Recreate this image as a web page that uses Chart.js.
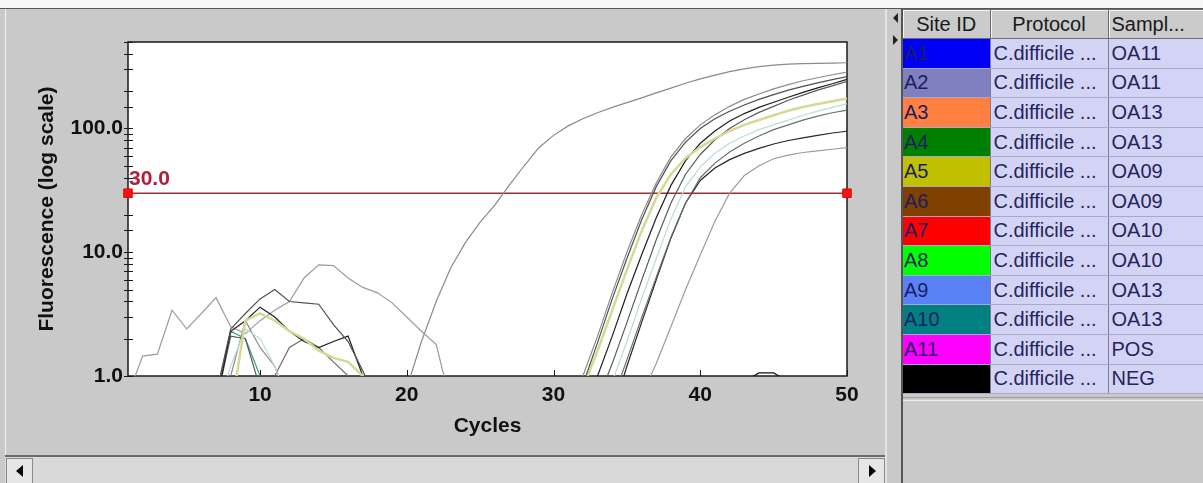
<!DOCTYPE html>
<html lang="en">
<head>
<meta charset="UTF-8">
<title>Amplification</title>
<script src="https://cdn.jsdelivr.net/npm/chart.js"></script>
<style>
  body { margin: 0; width: 1203px; height: 483px; background: #c9c9c9; position: relative; overflow: hidden;
         font-family: "Liberation Sans", Arial, sans-serif; }
  #topstrip { position: absolute; left: 0; top: 0; width: 1203px; height: 8px; background: #f7f7f7; border-bottom: 1px solid #555; }
  #leftEdge { position: absolute; left: 5px; top: 9px; width: 1px; height: 446px; background: #f2f2f2; }
  #amp { position: absolute; left: 5px; top: 9px; }
  #hscroll { position: absolute; left: 5px; top: 455px; width: 880px; height: 28px; background: #d9d9d9; border-top: 2px solid #6a6a6a; box-sizing: border-box; }
  .sbtn { position: absolute; top: 1px; width: 27px; height: 26px; background: #e6e6e6; border: 1px solid #8a8a8a; box-sizing: border-box; }
  .sbtn.l { left: 1px; } .sbtn.r { right: 0; }
  .sbtn::after { content: ""; position: absolute; top: 6px; border-top: 6px solid transparent; border-bottom: 6px solid transparent; }
  .sbtn.l::after { left: 9px; border-right: 7px solid #000; }
  .sbtn.r::after { left: 10px; border-left: 7px solid #000; }
  #split { position: absolute; left: 885px; top: 9px; width: 16px; height: 474px; background: #c9c9c9; border-left: 2px solid #e4e4e4; box-sizing: border-box; }
  #splitLine { position: absolute; left: 901px; top: 9px; width: 2px; height: 474px; background: #555; }
  .arr { position: absolute; left: 893px; width: 0; height: 0; border-top: 5px solid transparent; border-bottom: 5px solid transparent; }
  .arr.up { top: 13px; border-right: 5px solid #222; }
  .arr.dn { top: 35px; border-left: 5px solid #222; }
  #wells { position: absolute; left: 903px; top: 9px; width: 300px; border-collapse: collapse; table-layout: fixed; font-size: 20px; }
  #wells th { height: 28px; padding: 0; font-weight: normal; background: #cbcbcb; color: #1a1a1a;
              border-right: 1px solid #6d6d6d; border-bottom: 1px solid #6d6d6d; border-top: 1px solid #6d6d6d;
              box-shadow: inset 1px 1px 0 #f4f4f4; white-space: nowrap; overflow: hidden; }
  #wells th.lft { text-align: left; padding-left: 3px; }
  #wells td { height: 28.6px; padding: 0 0 0 3px; background: #d3d3f6; color: #25255c; white-space: nowrap; overflow: hidden;
              border-bottom: 1px solid #a8a8cc; border-right: 1px solid #7d7d95; }
  #wells td.site { padding-left: 1px; color: #1c1c64; }
  #below { position: absolute; left: 903px; top: 397px; width: 300px; height: 2px; border-top: 1px solid #9a9a9a; border-bottom: 1px solid #ececec; }
</style>
</head>
<body>
<div id="topstrip"></div>
<div id="leftEdge"></div>
<canvas id="amp" width="880" height="445"></canvas>
<div id="hscroll"><div class="sbtn l"></div><div class="sbtn r"></div></div>
<div id="split"></div>
<div id="splitLine"></div>
<div class="arr up"></div>
<div class="arr dn"></div>
<table id="wells">
  <colgroup><col style="width:87px"><col style="width:118px"><col style="width:95px"></colgroup>
  <thead><tr><th>Site ID</th><th>Protocol</th><th class="lft">Sampl...</th></tr></thead>
  <tbody id="rows"></tbody>
</table>
<div id="below"></div>

<script>
// cycle numbers (x axis)
const cycles = [1, 2, 3, 4, 5, 6, 7, 8, 9, 10, 11, 12, 13, 14, 15, 16, 17, 18, 19, 20,
                21, 22, 23, 24, 25, 26, 27, 28, 29, 30, 31, 32, 33, 34, 35, 36, 37, 38, 39, 40,
                41, 42, 43, 44, 45, 46, 47, 48, 49, 50];

// table
const siteIds   = ['A1', 'A2', 'A3', 'A4', 'A5', 'A6', 'A7', 'A8', 'A9', 'A10', 'A11', ''];
const protocols = ['C.difficile ...', 'C.difficile ...', 'C.difficile ...', 'C.difficile ...', 'C.difficile ...', 'C.difficile ...',
                   'C.difficile ...', 'C.difficile ...', 'C.difficile ...', 'C.difficile ...', 'C.difficile ...', 'C.difficile ...'];
const samples   = ['OA11', 'OA11', 'OA13', 'OA13', 'OA09', 'OA09', 'OA10', 'OA10', 'OA13', 'OA13', 'POS', 'NEG'];
const siteColors = ['#0000f8', '#8080c0', '#ff8040', '#008000', '#c0c000', '#804000',
                    '#ff0000', '#00ff00', '#5b82f5', '#008080', '#ff00ff', '#000000'];

// curve colours as they show on the plot
const lineColors = ['#505050', '#d5d993', '#1e1e1e', '#5a5a5a', '#b6dfda', '#6e6e6e',
                    '#262626', '#9c9c9c', '#8c8c8c', '#3aa070', '#8a8a8a', '#111111'];

// fluorescence per cycle (values under 1.0 sit below the axis)
const a1 = [0.5, 0.5, 0.5, 0.5, 0.5, 0.5, 0.7, 2.4, 3.2, 4.2, 5.0, 4.0, 3.9, 3.8, 2.6, 1.9, 1.1, 0.6, 0.5, 0.5,
            0.5, 0.5, 0.5, 0.5, 0.5, 0.5, 0.5, 0.5, 0.5, 0.5, 0.5, 0.85, 1.86, 4.2, 8.9, 18.2, 33.9, 55, 77.6, 100,
            120, 138, 155, 172, 188, 204, 219, 234, 248, 263];
const a2 = [0.5, 0.5, 0.5, 0.5, 0.5, 0.5, 0.5, 0.5, 2.8, 3.2, 2.8, 2.3, 2.0, 1.6, 1.4, 1.3, 1.0, 0.5, 0.5, 0.5,
            0.5, 0.5, 0.5, 0.5, 0.5, 0.5, 0.5, 0.5, 0.5, 0.5, 0.5, 0.8, 1.6, 3.4, 7.2, 14.8, 27.5, 42.7, 57.5, 70.8,
            83, 95.5, 107, 117, 128, 139, 149, 158, 166, 175];
const a3 = [0.5, 0.5, 0.5, 0.5, 0.5, 0.5, 0.6, 2.3, 2.8, 3.6, 3.0, 2.3, 1.9, 1.7, 1.9, 2.1, 1.0, 0.5, 0.5, 0.5,
            0.5, 0.5, 0.5, 0.5, 0.5, 0.5, 0.5, 0.5, 0.5, 0.5, 0.5, 0.5, 1.0, 2.1, 4.6, 9.5, 19, 34.7, 55, 76,
            95.5, 115, 132, 148, 163, 179, 196, 213, 230, 250];
const a4 = [0.5, 0.5, 0.5, 0.5, 0.5, 0.5, 0.6, 2.1, 2.0, 0.8, 0.5, 0.5, 0.5, 0.5, 0.5, 0.5, 0.5, 0.5, 0.5, 0.5,
            0.5, 0.5, 0.5, 0.5, 0.5, 0.5, 0.5, 0.5, 0.5, 0.5, 0.5, 0.5, 0.63, 1.26, 2.7, 5.9, 12.6, 25, 42.7, 61.7,
            81, 100, 117.5, 135, 151, 169, 186, 204, 221, 240];
const a5 = [0.5, 0.5, 0.5, 0.5, 0.5, 0.5, 0.5, 1.2, 2.4, 2.0, 1.2, 0.6, 0.5, 0.5, 0.5, 0.5, 0.5, 0.5, 0.5, 0.5,
            0.5, 0.5, 0.5, 0.5, 0.5, 0.5, 0.5, 0.5, 0.5, 0.5, 0.5, 0.5, 0.5, 0.9, 1.9, 4.2, 8.9, 18.6, 33.9, 49,
            63, 76, 87, 98, 107, 117, 128, 138, 148, 158];
const a6 = [0.5, 0.5, 0.5, 0.5, 0.5, 0.5, 0.5, 0.5, 0.5, 0.7, 1.0, 1.7, 2.0, 1.7, 1.3, 1.0, 0.7, 0.5, 0.5, 0.5,
            0.5, 0.5, 0.5, 0.5, 0.5, 0.5, 0.5, 0.5, 0.5, 0.5, 0.5, 0.5, 0.5, 0.63, 1.35, 2.95, 6.3, 13.2, 25, 40,
            52.5, 64.5, 76, 87, 98, 107, 117, 126, 134, 141];
const a7 = [0.5, 0.5, 0.5, 0.5, 0.5, 0.5, 0.5, 0.5, 0.5, 0.5, 0.5, 0.5, 0.5, 0.5, 0.5, 0.5, 0.5, 0.5, 0.5, 0.5,
            0.5, 0.5, 0.5, 0.5, 0.5, 0.5, 0.5, 0.5, 0.5, 0.5, 0.5, 0.5, 0.5, 0.5, 1.2, 2.7, 6.0, 13, 25, 38,
            48, 56, 63, 69, 75, 80, 84, 88, 92, 95];
const a8 = [0.7, 1.45, 1.5, 3.4, 2.4, 3.2, 4.3, 2.5, 2.2, 2.8, 3.4, 4.0, 6.2, 7.9, 7.8, 6.2, 5.2, 4.7, 3.9, 3.0,
            2.3, 1.8, 0.6, 0.5, 0.5, 0.5, 0.5, 0.5, 0.5, 0.5, 0.5, 0.5, 0.5, 0.5, 0.5, 0.7, 1.26, 2.5, 5.0, 9.5,
            17.8, 30, 41.7, 50, 57, 61, 64, 66, 68, 70];
const a9 = [0.5, 0.5, 0.5, 0.5, 0.5, 0.5, 0.5, 1.0, 2.8, 1.7, 1.2, 0.6, 0.5, 0.5, 0.5, 0.5, 0.5, 0.5, 0.5, 0.5,
            0.5, 0.5, 0.5, 0.5, 0.5, 0.5, 0.5, 0.5, 0.5, 0.5, 0.5, 1.0, 2.1, 4.7, 10, 20, 36.3, 59, 83, 107,
            129, 151, 172, 190, 209, 226, 243, 257, 272, 285];
const a10 = [0.5, 0.5, 0.5, 0.5, 0.5, 0.5, 0.7, 2.3, 2.0, 1.0, 0.6, 0.5, 0.5, 0.5, 0.5, 0.5, 0.5, 0.5, 0.5, 0.5,
             0.5, 0.5, 0.5, 0.5, 0.5, 0.5, 0.5, 0.5, 0.5, 0.5, 0.5, 0.5, 0.5, 0.5, 0.5, 0.5, 0.5, 0.5, 0.5, 0.5,
             0.5, 0.5, 0.5, 0.5, 0.5, 0.5, 0.5, 0.5, 0.5, 0.5];
const a11 = [0.5, 0.5, 0.5, 0.5, 0.5, 0.5, 0.5, 0.5, 0.5, 0.5, 0.5, 0.5, 0.5, 0.5, 0.5, 0.5, 0.5, 0.5, 0.5, 0.8,
             1.9, 4.0, 7.5, 12, 17.5, 24, 35, 50, 70, 88, 105, 120, 134, 148, 162, 177, 194, 212, 232, 252,
             270, 288, 303, 316, 325, 331, 334, 336, 338, 340];
const a12 = [0.5, 0.5, 0.5, 0.5, 0.5, 0.5, 0.5, 0.5, 0.5, 0.5, 0.5, 0.5, 0.5, 0.5, 0.5, 0.5, 0.5, 0.5, 0.5, 0.5,
             0.5, 0.5, 0.5, 0.5, 0.5, 0.5, 0.5, 0.5, 0.5, 0.5, 0.5, 0.5, 0.5, 0.5, 0.5, 0.5, 0.5, 0.5, 0.5, 0.5,
             0.5, 0.5, 0.9, 1.06, 1.06, 0.9, 0.5, 0.5, 0.5, 0.5];
const wells = [a1, a2, a3, a4, a5, a6, a7, a8, a9, a10, a11, a12];

const threshold = 30;
const yLabelValues = [1, 10, 100];

// table rows
const tbody = document.getElementById('rows');
samples.forEach((s, i) => {
  const tr = document.createElement('tr');
  tr.innerHTML = '<td class="site" style="background:' + siteColors[i] + '">' + siteIds[i] + '</td>' +
                 '<td>' + protocols[i] + '</td><td>' + s + '</td>';
  tbody.appendChild(tr);
});

const axisFont = { family: 'Liberation Sans, Arial, sans-serif', size: 21, weight: 'bold' };

const datasets = wells.map((w, i) => ({
  data: cycles.map((c, j) => ({ x: c, y: w[j] })),
  borderColor: lineColors[i],
  borderWidth: i === 1 ? 2.5 : 1.2,
  pointRadius: 0
}));
datasets.push({
  data: [{ x: cycles[0], y: threshold }, { x: cycles[cycles.length - 1], y: threshold }],
  borderColor: '#a33030',
  borderWidth: 1.5,
  pointStyle: 'rect',
  pointRadius: 6,
  pointBackgroundColor: '#ff1010',
  pointBorderColor: '#e00000',
  pointBorderWidth: 1,
  clip: false
});

const plotFrame = {
  id: 'plotFrame',
  beforeDraw(chart) {
    const { ctx, chartArea: a } = chart;
    ctx.save();
    ctx.fillStyle = '#ffffff';
    ctx.fillRect(a.left, a.top, a.right - a.left, a.bottom - a.top);
    ctx.restore();
  },
  beforeDatasetsDraw(chart) {
    const { ctx, chartArea: a, scales: { x, y } } = chart;
    ctx.save();
    ctx.strokeStyle = '#1a1a1a';
    ctx.lineWidth = 1.5;
    ctx.strokeRect(a.left, a.top, a.right - a.left, a.bottom - a.top);
    ctx.lineWidth = 1;
    ctx.beginPath();
    y.ticks.forEach(t => {
      const py = Math.round(y.getPixelForValue(t.value)) + 0.5;
      ctx.moveTo(a.left - 4, py);
      ctx.lineTo(a.left + 5, py);
    });
    x.ticks.forEach(t => {
      if (t.value % 10 !== 0) return;
      const px = Math.round(x.getPixelForValue(t.value)) + 0.5;
      ctx.moveTo(px, a.bottom);
      ctx.lineTo(px, a.bottom - 6);
    });
    ctx.stroke();
    ctx.restore();
  },
  afterDatasetsDraw(chart) {
    const { ctx, chartArea: a, scales: { y } } = chart;
    ctx.save();
    ctx.font = 'bold 21px "Liberation Sans", Arial, sans-serif';
    ctx.fillStyle = '#b0203a';
    ctx.textBaseline = 'middle';
    ctx.fillText(threshold.toFixed(1), a.left + 1, y.getPixelForValue(threshold) - 14);
    ctx.restore();
  }
};

new Chart(document.getElementById('amp'), {
  type: 'line',
  data: { datasets },
  options: {
    responsive: false,
    animation: false,
    devicePixelRatio: 1,
    layout: { padding: { top: 33, right: 38, left: 0, bottom: 0 } },
    plugins: { legend: { display: false }, tooltip: { enabled: false } },
    elements: { line: { tension: 0 } },
    scales: {
      x: {
        type: 'linear', min: 1, max: 50,
        grid: { display: false, drawTicks: false },
        border: { display: false },
        ticks: { stepSize: 10, autoSkip: false, maxRotation: 0, padding: 7, color: '#111', font: axisFont,
                 callback: v => (v % 10 === 0 ? String(v) : '') },
        title: { display: true, text: 'Cycles', color: '#111', font: axisFont, padding: { top: 0, bottom: 15 } },
        afterFit: s => { s.height = 78; }
      },
      y: {
        type: 'logarithmic', min: 1, max: 500,
        grid: { display: false, drawTicks: false },
        border: { display: false },
        ticks: { autoSkip: false, padding: 5, color: '#111', font: axisFont,
                 callback: v => (yLabelValues.includes(v) ? v.toFixed(1) : '') },
        title: { display: true, text: 'Fluorescence (log scale)', color: '#111', font: axisFont, padding: { top: 30, bottom: 0 } },
        afterFit: s => { s.width = 123; }
      }
    }
  },
  plugins: [plotFrame]
});
</script>
</body>
</html>
